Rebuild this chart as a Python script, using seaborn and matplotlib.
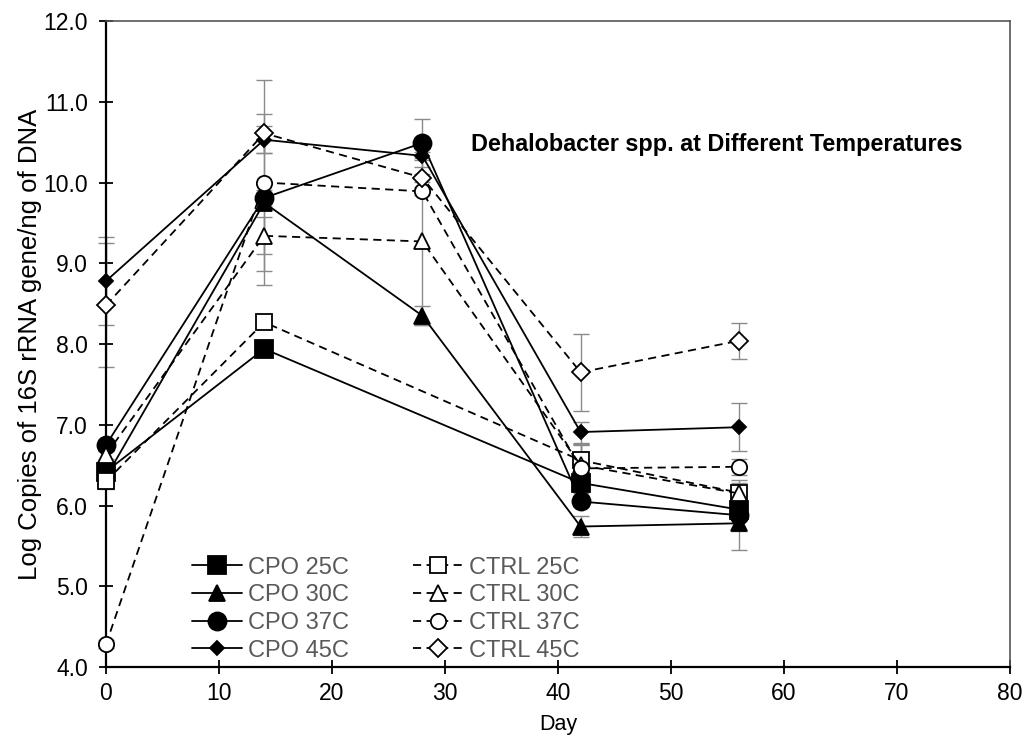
import numpy as np
import pandas as pd
import matplotlib
matplotlib.use("Agg")
import matplotlib.pyplot as plt
import seaborn as sns

# Sampling days
days = [0, 14, 28, 42, 56]

# Log copies of 16S rRNA gene / ng DNA (NaN = not sampled)
cpo_25 = [6.42, 7.94, np.nan, 6.28, 5.95]
cpo_30 = [6.35, 9.75, 8.35, 5.74, 5.78]
cpo_37 = [6.75, 9.81, 10.49, 6.05, 5.88]
cpo_45 = [8.78, 10.53, 10.33, 6.91, 6.97]
ctrl_25 = [6.30, 8.27, np.nan, 6.56, 6.16]
ctrl_30 = [6.63, 9.34, 9.27, 6.50, 6.15]
ctrl_37 = [4.28, 10.00, 9.89, 6.46, 6.48]
ctrl_45 = [8.48, 10.61, 10.06, 7.65, 8.04]

# Standard deviations
cpo_25_err = [0.08, 0.05, np.nan, 0.10, 0.10]
cpo_30_err = [0.05, 0.85, 0.12, 0.13, 0.10]
cpo_37_err = [0.05, 0.10, 0.30, 0.05, 0.43]
cpo_45_err = [0.55, 0.17, 0.05, 0.13, 0.30]
ctrl_25_err = [0.10, 0.05, np.nan, 0.20, 0.12]
ctrl_30_err = [0.05, 0.23, 1.03, 0.25, 0.10]
ctrl_37_err = [0.05, 1.27, 0.05, 0.30, 0.10]
ctrl_45_err = [0.77, 0.24, 0.05, 0.48, 0.22]

labels = ["CPO 25C", "CPO 30C", "CPO 37C", "CPO 45C",
          "CTRL 25C", "CTRL 30C", "CTRL 37C", "CTRL 45C"]
values = [cpo_25, cpo_30, cpo_37, cpo_45, ctrl_25, ctrl_30, ctrl_37, ctrl_45]
errors = [cpo_25_err, cpo_30_err, cpo_37_err, cpo_45_err,
          ctrl_25_err, ctrl_30_err, ctrl_37_err, ctrl_45_err]

dash = (0, (4.5, 3))
styles = {
    "CPO 25C": dict(marker="s", ms=13, mfc="black", ls="-"),
    "CPO 30C": dict(marker="^", ms=12, mfc="black", ls="-"),
    "CPO 37C": dict(marker="o", ms=13, mfc="black", ls="-"),
    "CPO 45C": dict(marker="D", ms=7, mfc="black", ls="-"),
    "CTRL 25C": dict(marker="s", ms=11, mfc="white", ls=dash),
    "CTRL 30C": dict(marker="^", ms=11, mfc="white", ls=dash),
    "CTRL 37C": dict(marker="o", ms=11, mfc="white", ls=dash),
    "CTRL 45C": dict(marker="D", ms=9, mfc="white", ls=dash),
}

sns.set_theme(style="white")
plt.rcParams["font.family"] = ["Liberation Sans", "DejaVu Sans"]

fig = plt.figure(figsize=(10.28, 7.40), dpi=100)
ax = fig.add_axes([0.1031, 0.0986, 0.8794, 0.873])

for lab, vals, errs in zip(labels, values, errors):
    df = pd.DataFrame({"Day": days, "val": vals, "err": errs}).dropna()
    st = styles[lab]
    ax.errorbar(df["Day"], df["val"], yerr=df["err"], fmt="none",
                ecolor="#8a8a8a", elinewidth=1.0, capsize=6, capthick=1.0,
                zorder=1, clip_on=False)
    sns.lineplot(data=df, x="Day", y="val", ax=ax, color="black",
                 linewidth=1.3, linestyle=st["ls"], marker=st["marker"],
                 markersize=st["ms"], markerfacecolor=st["mfc"],
                 markeredgecolor="black", markeredgewidth=1.3,
                 label=lab, zorder=3, estimator=None, clip_on=False)

ax.set_xlim(0, 80)
ax.set_ylim(4.0, 12.0)
ax.set_xticks(np.arange(0, 81, 10))
ax.set_yticks(np.arange(4.0, 12.01, 1.0))
ax.set_yticklabels([f"{v:.1f}" for v in np.arange(4.0, 12.01, 1.0)])
ax.tick_params(axis="both", direction="inout", length=10, width=1.3,
               color="black", labelsize=16.5, labelcolor="black",
               bottom=True, left=True)
ax.tick_params(axis="y", pad=8)
ax.tick_params(axis="x", pad=6)
ax.set_xlabel("Day", fontsize=15.5, color="black", labelpad=6)
ax.set_ylabel("Log Copies of 16S rRNA gene/ng of DNA", fontsize=18.5,
              color="black", labelpad=1)

for side in ["left", "bottom"]:
    ax.spines[side].set_color("black")
    ax.spines[side].set_linewidth(1.6)
for side in ["top", "right"]:
    ax.spines[side].set_color("#555555")
    ax.spines[side].set_linewidth(1.2)

ax.text(32.3, 10.47, "Dehalobacter spp. at Different Temperatures",
        fontsize=16.8, fontweight="bold", color="black", va="center", ha="left")

h, l = ax.get_legend_handles_labels()
leg = ax.legend(h, l, ncol=2, loc="upper left", bbox_to_anchor=(0.095, 0.171),
                frameon=False, fontsize=17, handlelength=2.12,
                handletextpad=0.25, columnspacing=2.7, labelspacing=0.24,
                borderaxespad=0, borderpad=0)
for t in leg.get_texts():
    t.set_color("#595959")

fig.savefig("out.png", dpi=100, facecolor="white")
